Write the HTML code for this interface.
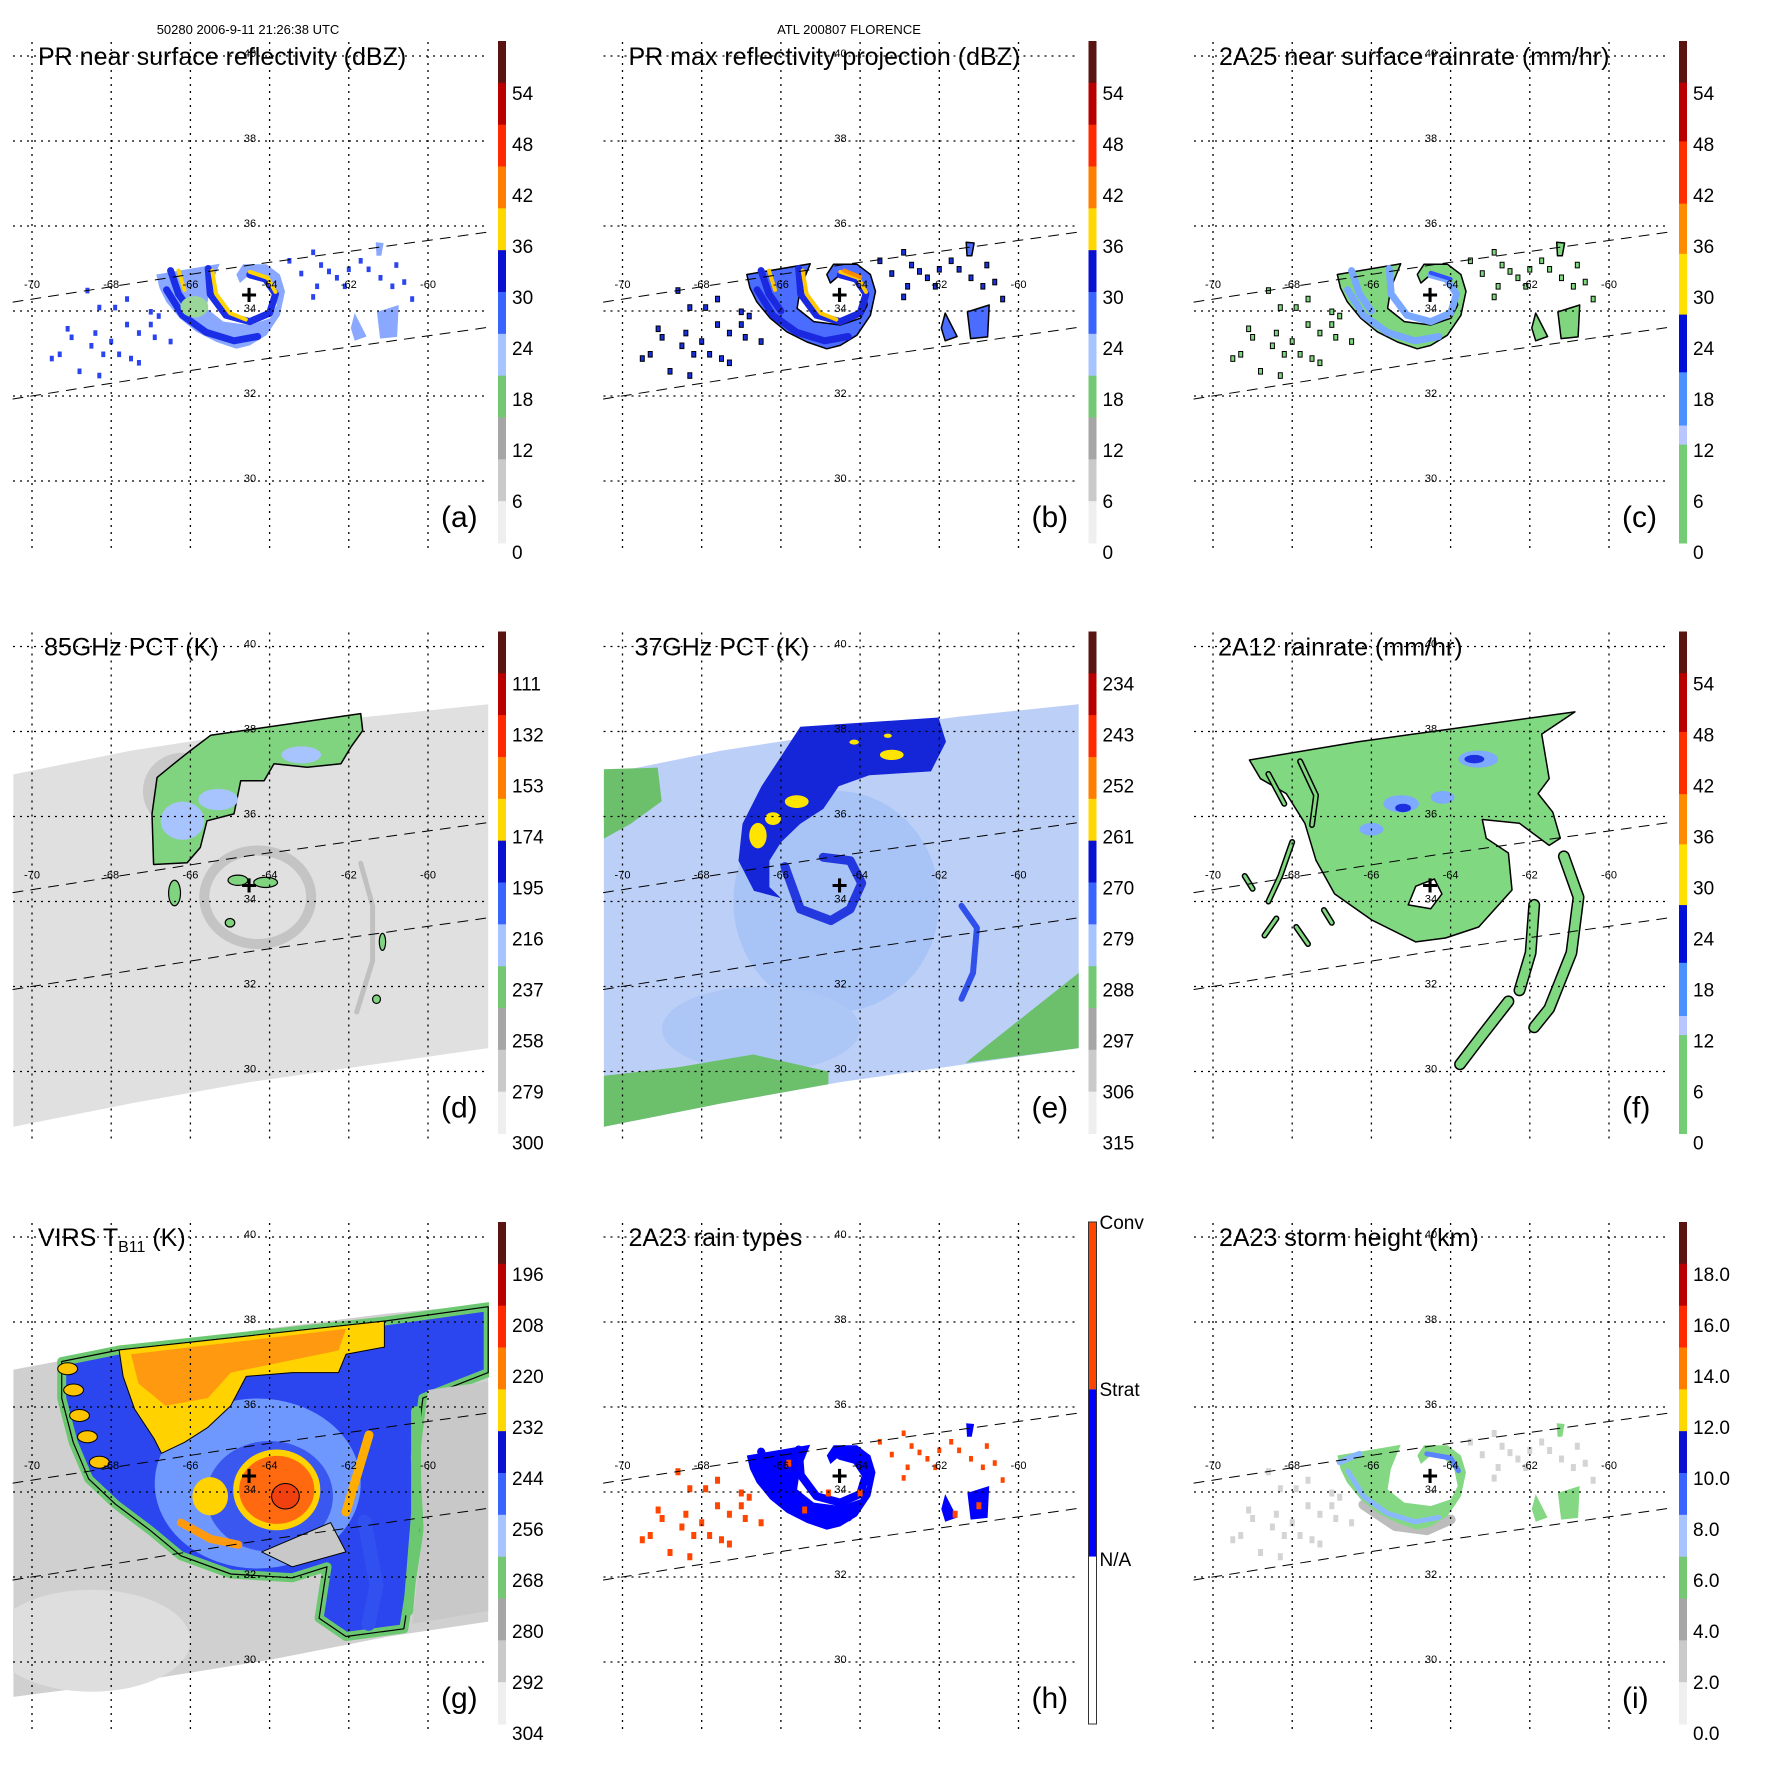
<!DOCTYPE html>
<html><head><meta charset="utf-8"><title>TRMM Florence 2006-09-11</title>
<style>
html,body{margin:0;padding:0;background:#fff;}
svg{display:block;font-family:"Liberation Sans",sans-serif;}
</style></head>
<body>
<svg id="fig" width="1771" height="1771" viewBox="0 0 1771 1771" xmlns="http://www.w3.org/2000/svg">
<rect width="1771" height="1771" fill="#fff"/>
<text x="248" y="34" font-size="13" text-anchor="middle">50280 2006-9-11 21:26:38 UTC</text>
<text x="849" y="34" font-size="13" text-anchor="middle">ATL 200807 FLORENCE</text>
</svg>
<script>
// ---- data (lon/lat) ----
const lonTicks = [-70,-68,-66,-64,-62,-60];
const latTicks = [40,38,36,34,32,30];
const stormCenter = [-64.52, 34.38];
const prUpper = [[-70.48,34.21],[-64.5,35.08],[-58.46,35.86]];
const prLower = [[-70.48,31.93],[-64.5,32.82],[-58.46,33.62]];
const tmiUpper = [[-70.47,36.99],[-67.5,37.55],[-64.5,37.98],[-61.5,38.35],[-58.48,38.64]];
const tmiLower = [[-58.48,30.55],[-61.5,30.15],[-64.5,29.75],[-67.5,29.25],[-70.47,28.7]];
const virsUpper = [[-70.47,36.88],[-67.8,37.34],[-64,37.85],[-61,38.2],[-58.48,38.42]];
const virsLower = [[-58.48,30.95],[-61,30.6],[-64,30.05],[-67,29.6],[-70.47,29.18]];
const prMain = [[-66.86,34.86],[-65.26,35.11],[-65.51,34.54],[-65.59,34.06],[-65.17,33.75],[-64.5,33.67],[-63.99,33.83],[-63.82,34.14],[-63.91,34.54],[-64.16,34.78],[-64.5,34.86],[-64.75,34.66],[-64.84,34.86],[-64.67,35.1],[-64.08,35.1],[-63.74,34.86],[-63.61,34.46],[-63.74,33.9],[-64.08,33.43],[-64.5,33.19],[-64.84,33.11],[-65.34,33.27],[-65.85,33.51],[-66.27,33.83],[-66.61,34.22],[-66.78,34.54]];
const prBands = [
 [[-66.6,34.5],[-66.2,33.9],[-65.6,33.5],[-64.9,33.3],[-64.3,33.4]],
 [[-65.55,35.0],[-65.5,34.4],[-65.1,33.9],[-64.5,33.75],[-64.0,33.95],[-63.85,34.4],[-64.1,34.75],[-64.5,34.85]],
 [[-66.5,34.95],[-66.3,34.4],[-66.0,34.0]]];
const prYellow = [
 [[-66.3,34.95],[-66.15,34.5]],
 [[-65.45,34.95],[-65.35,34.4],[-65.0,33.95],[-64.6,33.8]],
 [[-64.5,34.92],[-64.05,34.78],[-63.85,34.45]]];
const prBlobs = [
 [[-61.29,33.98],[-60.74,34.14],[-60.78,33.39],[-61.21,33.35]],
 [[-61.85,33.95],[-61.55,33.4],[-61.85,33.3],[-61.95,33.6]],
 [[-61.32,35.62],[-61.12,35.6],[-61.18,35.3],[-61.3,35.3]]];
const specksLeft = [[-69.0,33.4],[-69.1,33.6],[-68.5,33.2],[-68.4,33.5],[-68.2,33.0],[-68.0,33.3],[-67.8,33.0],[-67.6,33.7],[-67.5,32.9],[-67.3,33.5],[-67.3,32.8],[-67.0,34.0],[-67.0,33.7],[-66.9,33.4],[-68.6,34.5],[-68.3,34.1],[-67.9,34.1],[-69.5,32.9],[-68.8,32.6],[-67.6,34.3],[-66.8,33.9],[-68.3,32.5],[-69.3,33.0],[-66.5,33.3]];
const specksRight = [[-62.9,35.4],[-62.7,35.1],[-62.5,34.95],[-62.3,34.8],[-62.1,34.6],[-62.0,35.0],[-62.8,34.6],[-62.9,34.35],[-61.5,35.0],[-61.2,34.8],[-60.9,34.6],[-60.8,35.1],[-60.6,34.7],[-60.4,34.3],[-61.7,35.2],[-63.5,35.2],[-63.2,34.9]];
// 85 GHz
const d85Green = [[-66.93,34.87],[-66.97,36.06],[-66.84,36.92],[-66.42,37.24],[-66.0,37.55],[-65.49,37.91],[-61.7,38.42],[-61.65,38.02],[-61.95,37.63],[-62.2,37.24],[-63.05,37.16],[-63.89,37.24],[-64.14,36.84],[-64.73,36.84],[-64.9,36.06],[-65.58,35.9],[-65.75,35.27],[-66.08,34.91]];
const d85Blue = [[-66.2,35.9,0.55,0.45],[-63.2,37.45,0.5,0.2],[-65.3,36.4,0.5,0.25]];
const d85Small = [[-64.8,34.5,0.25,0.12],[-64.1,34.45,0.3,0.12],[-66.4,34.2,0.15,0.3],[-65.0,33.5,0.12,0.1],[-61.15,33.05,0.08,0.2],[-61.3,31.7,0.1,0.1]];
// 37 GHz
const e37Dark = [[-65.51,38.11],[-62.02,38.33],[-61.83,37.76],[-62.21,37.06],[-63.77,36.97],[-64.54,36.71],[-64.93,36.18],[-65.51,35.83],[-66.0,35.39],[-66.29,34.96],[-66.29,34.34],[-66.0,34.08],[-66.68,34.25],[-67.07,34.96],[-66.97,35.83],[-66.49,36.71],[-66.0,37.41]];
const e37Ring = [[-65.9,34.82],[-65.51,33.82],[-64.74,33.55],[-64.25,33.82],[-63.96,34.43],[-64.25,34.96],[-64.93,35.04]];
const e37Arc = [[-61.44,33.9],[-61.05,33.38],[-61.15,32.32],[-61.44,31.71]];
const e37Yellow = [[-66.58,35.55,0.22,0.3],[-66.2,35.95,0.2,0.15],[-65.6,36.35,0.3,0.15],[-63.2,37.45,0.3,0.12],[-64.15,37.75,0.12,0.06],[-63.3,37.9,0.1,0.05]];
const e37Green = [
 [[-70.47,37.11],[-69.11,37.15],[-69.01,36.36],[-69.79,35.83],[-70.47,35.48]],
 [[-70.47,28.7],[-70.47,29.9],[-68.6,30.1],[-66.7,30.4],[-64.8,30.0],[-64.8,29.7],[-67.5,29.25]],
 [[-60.85,30.57],[-58.48,32.32],[-58.48,30.55],[-61.34,30.2]]];
// 2A12
const f12Main = [[-69.08,37.33],[-66.33,37.76],[-60.86,38.46],[-61.7,37.94],[-61.51,36.89],[-61.79,36.54],[-61.42,36.1],[-61.23,35.49],[-61.51,35.32],[-62.26,35.84],[-63.2,35.93],[-63.1,35.49],[-62.54,35.14],[-62.45,34.27],[-63.29,33.4],[-64.13,33.14],[-64.88,33.05],[-66.0,33.57],[-66.93,34.18],[-67.4,34.97],[-67.68,35.84],[-68.15,36.54],[-68.8,36.89]];
const f12Eye = [[-64.88,34.36],[-64.41,34.53],[-64.22,34.18],[-64.5,33.83],[-65.07,33.92]];
const f12Arcs = [
 [[-61.14,35.06],[-60.77,34.1],[-60.95,32.79],[-61.51,31.48],[-61.89,31.04]],
 [[-61.89,33.92],[-61.98,32.79],[-62.26,31.91]],
 [[-62.54,31.65],[-63.2,30.86],[-63.76,30.17]]];
const f12Streaks = [
 [[-68.6,37.0],[-68.2,36.3]],[[-67.8,37.3],[-67.4,36.5],[-67.5,35.8]],[[-68.0,35.4],[-68.3,34.6],[-68.6,34.0]],
 [[-69.2,34.6],[-69.0,34.3]],[[-67.9,33.4],[-67.6,33.0]],[[-68.4,33.6],[-68.7,33.2]],[[-67.2,33.8],[-67.0,33.5]]];
const f12Blue = [[-65.25,36.3,0.45,0.2],[-63.3,37.35,0.5,0.2],[-64.2,36.45,0.3,0.15],[-66.0,35.7,0.3,0.15]];
// VIRS
const gEnvelope = [[-69.25,37.07],[-67.8,37.34],[-61.1,38.02],[-58.48,38.36],[-58.48,36.81],[-60.13,36.21],[-60.32,34.83],[-60.22,33.1],[-60.61,30.78],[-62.07,30.6],[-62.75,31.03],[-62.55,32.24],[-63.43,31.98],[-64.98,32.07],[-66.24,32.5],[-67.02,33.1],[-67.89,33.71],[-68.57,34.31],[-68.96,35.17],[-69.25,36.21]];
const gYellow = [[-67.8,37.34],[-61.1,38.02],[-61.1,37.41],[-62.07,37.24],[-62.26,36.81],[-63.43,36.81],[-64.59,36.72],[-64.98,36.03],[-65.56,35.52],[-66.15,35.17],[-66.73,34.91],[-66.92,35.26],[-67.41,35.95],[-67.7,36.72]];
const gOrange = [[-67.5,37.24],[-62.07,37.84],[-62.26,37.33],[-64.98,36.81],[-65.56,36.21],[-66.63,36.03],[-67.31,36.55]];
const gGray = [[-64.2,32.59],[-62.46,33.28],[-62.07,32.59],[-63.43,32.24]];
const gRightGray = [[-60.0,36.4],[-58.48,36.6],[-58.48,31.2],[-60.4,30.9],[-60.1,33.2],[-60.2,34.9]];
const gStreaks = [[-69.1,36.9],[-68.95,36.4],[-68.8,35.8],[-68.6,35.3],[-68.3,34.7]];
// colorbar labels
const labelsA = ['54','48','42','36','30','24','18','12','6','0'];
const labelsD = ['111','132','153','174','195','216','237','258','279','300'];
const labelsE = ['234','243','252','261','270','279','288','297','306','315'];
const labelsG = ['196','208','220','232','244','256','268','280','292','304'];
const labelsI = ['18.0','16.0','14.0','12.0','10.0','8.0','6.0','4.0','2.0','0.0'];
const bandsA = ['#5a1512','#b80000','#ff2a00','#ff7e00','#ffd800','#0a10d0','#3a64ff','#a8c4ff','#74c874','#a6a6a6','#cacaca','#efefef'];
const bandsC = [[0,.083,'#5a1512'],[.083,.2,'#b80000'],[.2,.324,'#ff3000'],[.324,.424,'#ff8c00'],[.424,.545,'#ffe000'],[.545,.66,'#0010d8'],[.66,.766,'#4a90ff'],[.766,.804,'#b8c8ff'],[.804,1,'#74cc74']];

// ---- helpers ----
const NS='http://www.w3.org/2000/svg';
const svg=document.getElementById('fig');
function mk(parent,tag,attrs){const e=document.createElementNS(NS,tag);for(const k in attrs)e.setAttribute(k,attrs[k]);parent.appendChild(e);return e;}
const X=lon=>32+(lon+70)*39.6;
const Y=lat=>56+(40-lat)*42.5;
function pts(a){return a.map(p=>X(p[0]).toFixed(1)+','+Y(p[1]).toFixed(1)).join(' ');}
function poly(g,a,fill,stroke,sw,name){
 const e=mk(g,'polygon',{points:pts(a),fill:fill,stroke:stroke||'none','stroke-width':sw||0,'stroke-linejoin':'round'});
 
 
 return e;}
function line(g,a,stroke,sw,name,dash){
 const e=mk(g,'polyline',{points:pts(a),fill:'none',stroke:stroke,'stroke-width':sw,'stroke-linecap':'round','stroke-linejoin':'round'});
 if(dash)e.setAttribute('stroke-dasharray',dash);
 
 
 return e;}
function ell(g,c,fill,stroke,sw,name){
 const e=mk(g,'ellipse',{cx:X(c[0]),cy:Y(c[1]),rx:c[2]*39.6,ry:c[3]*42.5,fill:fill,stroke:stroke||'none','stroke-width':sw||0});
 
 
 return e;}
function specks(g,arr,fill,stroke,sz,name){
 arr.forEach(p=>{const e=mk(g,'rect',{x:X(p[0])-sz/2,y:Y(p[1])-sz/2,width:sz,height:sz*1.4,fill:fill,stroke:stroke||'none','stroke-width':stroke?1:0});
 
 });}
function swath(g,up,lo,fill,name){return poly(g,up.concat(lo),fill,null,0,name);}

function prBase(g,mainFill,bandCol,yelCol,speckFill,speckStroke,outline,prefix){
 poly(g,prMain,mainFill,outline?'#000':null,outline?1.5:0,prefix+'-main-rainband');
 prBands.forEach(b=>line(g,b,bandCol,7,prefix+'-spiral-band'));
 if(yelCol)prYellow.forEach(b=>line(g,b,yelCol,4,prefix+'-intense-core'));
 prBlobs.forEach(b=>poly(g,b,mainFill,outline?'#000':null,outline?1.5:0,prefix+'-outer-cell'));
 specks(g,specksLeft,speckFill,speckStroke,4,prefix+'-scattered-echo');
 specks(g,specksRight,speckFill,speckStroke,4,prefix+'-scattered-echo');
}

function panel(col,row,id,title,letter,cb,labels,titleX,drawData){
 const g=mk(svg,'g',{transform:`translate(${(col*590.5).toFixed(1)},${(row*590.5).toFixed(1)})`});
 
 
 const clip=mk(g,'clipPath',{id:'clip'+id});
 mk(clip,'rect',{x:13,y:42,width:476,height:510});
 const dg=mk(g,'g',{'clip-path':`url(#clip${id})`});
 
 
 drawData(dg);
 line(g,prUpper,'#000',1,'pr-swath-edge-upper','10,8');
 line(g,prLower,'#000',1,'pr-swath-edge-lower','10,8');
 latTicks.forEach(l=>{const e=mk(g,'line',{x1:13,x2:489,y1:Y(l),y2:Y(l),stroke:'#000','stroke-width':1.3,'stroke-dasharray':'2,5'});
  
  });
 lonTicks.forEach(l=>{const e=mk(g,'line',{x1:X(l),x2:X(l),y1:42,y2:552,stroke:'#000','stroke-width':1.3,'stroke-dasharray':'2,5'});
  
  });
 latTicks.forEach(l=>{const t=mk(g,'text',{x:250,y:Y(l)+1,'font-size':11,'text-anchor':'middle'});t.textContent=String(l);
  
  });
 lonTicks.forEach(l=>{const t=mk(g,'text',{x:X(l),y:288,'font-size':11,'text-anchor':'middle'});t.textContent=String(l);
  
  });
 const c=mk(g,'text',{x:X(stormCenter[0]),y:Y(stormCenter[1])+9,'font-size':28,'font-weight':'bold','text-anchor':'middle'});c.textContent='+';
 
 
 const t=mk(g,'text',{x:titleX,y:65,'font-size':25});
 
 
 if(Array.isArray(title)){t.appendChild(document.createTextNode(title[0]));const s=mk(t,'tspan',{'font-size':16,dy:6});s.textContent=title[1];const s2=mk(t,'tspan',{dy:-6});s2.textContent=title[2];}
 else t.textContent=title;
 const L=mk(g,'text',{x:441,y:527,'font-size':30});L.textContent=letter;
 
 
 const cbg=mk(g,'g',{});
 
 
 const top=41,h=502;
 if(cb==='A'){bandsA.forEach((col2,i)=>{const r=mk(cbg,'rect',{x:498,y:top+i*h/12,width:8,height:h/12+0.5,fill:col2});
   
   });}
 else if(cb==='C'){bandsC.forEach(b=>{const r=mk(cbg,'rect',{x:498,y:top+b[0]*h,width:8,height:(b[1]-b[0])*h+0.5,fill:b[2]});
   
   });}
 else {[['#ff4500',0],['#0000ff',1],['#ffffff',2]].forEach(b=>{const r=mk(cbg,'rect',{x:498,y:top+b[1]*h/3,width:8,height:h/3,fill:b[0]});
   
   });
   const o=mk(cbg,'rect',{x:498,y:top,width:8,height:h,fill:'none',stroke:'#333','stroke-width':1});
   
   }
 labels.forEach((s,i)=>{
  const yy=cb==='H'?[48,215,385][i]:94+i*51+6;
  const tx=mk(cbg,'text',{x:cb==='H'?509:512,y:yy,'font-size':19});tx.textContent=s;
  
  });
}

panel(0,0,'a','PR near surface reflectivity (dBZ)','(a)','A',labelsA,38,g=>{
 prBase(g,'#8aa8ff','#1a2ee8','#ffd400','#2a44f0',null,false,'reflectivity');
 ell(g,[-65.9,34.1,0.35,0.25],'#9ad69a',null,0,'light-echo');
});
panel(1,0,'b','PR max reflectivity projection (dBZ)','(b)','A',labelsA,38,g=>{
 prBase(g,'#4a6cff','#1a28e0','#ffc800','#1830e0','#000',true,'max-reflectivity');
 line(g,[[-64.4,34.95],[-64.0,34.8]],'#ff8a00',4,'max-reflectivity-peak');
});
panel(2,0,'c','2A25 near surface rainrate (mm/hr)','(c)','C',labelsA,38,g=>{
 prBase(g,'#7fd67f','#78a8ff',null,'#7fd67f','#000',true,'rainrate');
 line(g,[[-64.5,34.9],[-64.0,34.75]],'#3050ff',4,'rainrate-peak');
});
panel(0,1,'d','85GHz PCT (K)','(d)','A',labelsD,44,g=>{
 swath(g,tmiUpper,tmiLower,'#e0e0e0','tmi-swath-85ghz');
 ell(g,[-64.3,34.1,1.35,1.1],'none','#c4c4c4',10,'eyewall-halo');
 line(g,[[-61.7,34.9],[-61.4,33.9],[-61.4,32.6],[-61.8,31.4]],'#c0c0c0',5,'outer-rainband-arc');
 ell(g,[-66.2,36.6,1.0,0.9],'#c8c8c8',null,0,'cold-cloud-shadow');
 poly(g,d85Green,'#80d480','#000',1.5,'ice-scattering-region');
 d85Blue.forEach(c=>ell(g,c,'#a8c4ff',null,0,'strong-scattering'));
 d85Small.forEach(c=>ell(g,c,'#80d480','#000',1.2,'scattering-cell'));
});
panel(1,1,'e','37GHz PCT (K)','(e)','A',labelsE,44,g=>{
 swath(g,tmiUpper,tmiLower,'#bccff7','tmi-swath-37ghz');
 ell(g,[-64.6,34.0,2.6,2.6],'#a8c4f7',null,0,'emission-region');
 ell(g,[-66.5,31.0,2.5,1.0],'#acc6f6',null,0,'emission-south');
 e37Green.forEach(p=>poly(g,p,'#6cc06c',null,0,'clear-ocean-patch'));
 poly(g,e37Dark,'#1426d8',null,0,'rain-emission-band');
 line(g,e37Ring,'#2438e0',9,'eyewall-ring');
 line(g,e37Arc,'#3050ea',6,'outer-arc');
 e37Yellow.forEach(c=>ell(g,c,'#ffe400',null,0,'heavy-rain-core'));
});
panel(2,1,'f','2A12 rainrate (mm/hr)','(f)','C',labelsA,37,g=>{
 poly(g,f12Main,'#80d880','#000',1.5,'tmi-rain-area');
 f12Blue.forEach(c=>ell(g,c,'#7eaaff',null,0,'moderate-rain'));
 ell(g,[-65.2,36.2,0.2,0.1],'#1c30e0',null,0,'heavy-rain');
 ell(g,[-63.4,37.35,0.25,0.1],'#1c30e0',null,0,'heavy-rain');
 poly(g,f12Eye,'#fff','#000',1.5,'eye');
 f12Arcs.forEach(a=>{line(g,a,'#000',12,'rainband-outline');line(g,a,'#80d880',9,'rainband');});
 f12Streaks.forEach(a=>{line(g,a,'#000',6,'streak-outline');line(g,a,'#80d880',3,'streak');});
});
panel(0,2,'g',['VIRS T','B11',' (K)'],'(g)','A',labelsG,38,g=>{
 swath(g,virsUpper,virsLower,'#d0d0d0','virs-swath');
 ell(g,[-68.5,30.5,2.5,1.2],'#dedede',null,0,'warm-clear-area');
 poly(g,gEnvelope,'#2b46ee','#6cc870',9,'cloud-shield');
 poly(g,gEnvelope,'none','#000',1.2,'cloud-shield-contour');
 ell(g,[-64.3,34.2,2.6,2.0],'#6f98ff',null,0,'inner-cloud');
 ell(g,[-64.0,33.9,1.6,1.3],'#3a58f0',null,0,'inner-ring');
 poly(g,gYellow,'#ffd200','#000',1,'cold-canopy');
 poly(g,gOrange,'#ff9a10',null,0,'cold-canopy-core');
 poly(g,gGray,'#c8c8c8','#000',1,'warm-moat');
 poly(g,gRightGray,'#c8c8c8',null,0,'clear-east');
 line(g,[[-60.3,35.9],[-60.3,33.5],[-60.5,31.2]],'#6cc870',10,'east-edge-band');
 line(g,[[-61.49,35.34],[-62.07,33.53]],'#ffae00',9,'east-rainband-top');
 line(g,[[-61.6,33.3],[-61.3,31.8],[-61.5,30.9]],'#3050f0',14,'outer-rainband');
 line(g,[[-66.24,33.28],[-65.5,32.9],[-64.79,32.76]],'#ff9a10',8,'spiral-band-cold');
 ell(g,[-65.5,33.9,0.45,0.45],'#ffd200',null,0,'inner-cold-cloud');
 ell(g,[-63.82,34.05,1.1,0.95],'#ffd200',null,0,'eyewall-outer');
 ell(g,[-63.82,34.05,0.95,0.8],'#ff6a10',null,0,'eyewall-cold-core');
 ell(g,[-63.6,33.9,0.35,0.3],'#f04010','#000',1,'coldest-tops');
 gStreaks.forEach(c=>ell(g,[c[0],c[1],0.25,0.14],'#ffc400','#000',1,'edge-streak'));
});
panel(1,2,'h','2A23 rain types','(h)','H',['Conv','Strat','N/A'],38,g=>{
 poly(g,prMain,'#0000ff',null,0,'stratiform-main');
 prBands.forEach(b=>line(g,b,'#0000ff',8,'stratiform-band'));
 prBlobs.forEach(b=>poly(g,b,'#0000ff',null,0,'stratiform-cell'));
 specks(g,specksLeft,'#ff4500',null,5,'convective-speck');
 specks(g,specksRight,'#ff4500',null,4,'convective-speck');
 specks(g,[[-64.8,34.0],[-65.4,33.6],[-64.0,34.0],[-61.0,33.7],[-61.6,33.5],[-65.8,34.7]],'#ff4500',null,5,'convective-cell');
});
panel(2,2,'i','2A23 storm height (km)','(i)','A',labelsI,38,g=>{
 line(g,[[-66.2,33.7],[-65.4,33.2],[-64.6,33.1],[-64.0,33.35]],'#bcbcbc',10,'low-echo-tops');
 poly(g,prMain,'#84d884',null,0,'storm-height-main');
 prBands.slice(0,1).forEach(b=>line(g,b,'#8ab8ff',5,'high-echo-band'));
 line(g,[[-66.8,34.7],[-66.3,34.9]],'#8ab8ff',6,'high-echo-band');
 line(g,[[-64.6,34.9],[-64.0,34.8],[-63.8,34.5]],'#5a84ff',5,'highest-echo');
 prBlobs.forEach(b=>poly(g,b,'#84d884',null,0,'storm-height-cell'));
 specks(g,specksLeft,'#d4d4d4',null,5,'shallow-echo');
 specks(g,specksRight,'#d4d4d4',null,5,'shallow-echo');
});
</script>
</body></html>
